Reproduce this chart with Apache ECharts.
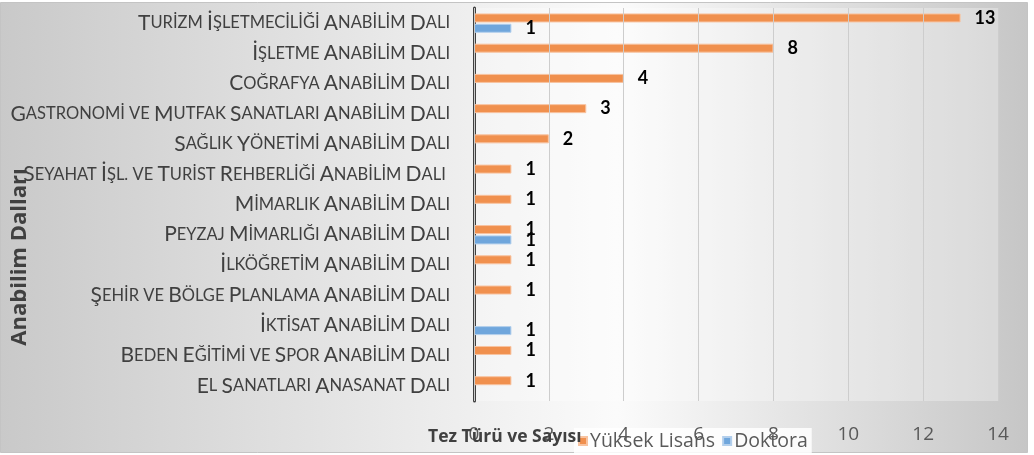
<!DOCTYPE html>
<html>
<head>
<meta charset="utf-8">
<script src="https://cdn.jsdelivr.net/npm/echarts@6/dist/echarts.min.js"></script>
<style>
  html, body { margin: 0; padding: 0; background: #fff; }
  #chart { width: 1034px; height: 455px; }
</style>
</head>
<body>
<div id="chart"></div>
<script>
// Kategoriler (yukarıdan aşağıya)
const categories = [
  'Turizm İşletmeciliği Anabilim Dalı',
  'İşletme Anabilim Dalı',
  'Coğrafya Anabilim Dalı',
  'Gastronomi ve Mutfak Sanatları Anabilim Dalı',
  'Sağlık Yönetimi Anabilim Dalı',
  'Seyahat İşl. ve Turist Rehberliği Anabilim Dalı ',
  'Mimarlık Anabilim Dalı',
  'Peyzaj Mimarlığı Anabilim Dalı',
  'İlköğretim Anabilim Dalı',
  'Şehir ve Bölge Planlama Anabilim Dalı',
  'İktisat Anabilim Dalı',
  'Beden Eğitimi ve Spor Anabilim Dalı',
  'El Sanatları Anasanat Dalı'
]
const yuksekLisans = [13, 8, 4, 3, 2, 1, 1, 1, 1, 1, null, 1, 1]
const doktora = [1, null, null, null, null, null, null, 1, null, null, 1, null, null]
const valueMin = 0
const valueMax = 14
const valueInterval = 2

const FONT = 'Lato'
const FONT2 = 'Open Sans'

// küçük büyük harf (small caps) görünümü
const smallCaps = (text) => {
  return text.split(' ').map((w) => {
    if (!w) return ''
    const up = w.toLocaleUpperCase('tr-TR')
    const first = w[0]
    if (first !== first.toLocaleLowerCase('tr-TR')) {
      return '{b|' + up[0] + '}' + (up.length > 1 ? '{s|' + up.slice(1) + '}' : '')
    }
    return '{s|' + up + '}'
  }).join('{s| }')
}

const chart = echarts.init(document.getElementById('chart'))

const option = {
  animation: false,
  textStyle: { fontFamily: FONT },
  graphic: [
    {
      type: 'rect',
      z: -10,
      silent: true,
      shape: { x: 0.5, y: 2.5, width: 1027, height: 450 },
      style: {
        fill: new echarts.graphic.LinearGradient(0, 0, 1, 0, [
          { offset: 0, color: '#c9c9c9' },
          { offset: 0.6, color: '#fbfbfb' },
          { offset: 1, color: '#c6c6c6' }
        ]),
        stroke: '#c4c4c4',
        lineWidth: 1
      }
    },
    {
      type: 'text',
      z: 10,
      x: 20,
      y: 257,
      rotation: Math.PI / 2,
      style: {
        text: 'Anabilim Dalları',
        fontFamily: FONT2,
        fontSize: 22,
        fontWeight: 'bold',
        fill: '#404040',
        align: 'center',
        verticalAlign: 'middle'
      }
    },
    {
      type: 'text',
      z: 10,
      x: 428,
      y: 437,
      style: {
        text: 'Tez Türü ve Sayısı',
        fontFamily: FONT2,
        fontSize: 17.5,
        fontWeight: 'bold',
        fill: '#404040',
        align: 'left',
        verticalAlign: 'middle'
      }
    }
  ],
  legend: {
    left: 574,
    top: 428,
    z: 1,
    icon: 'rect',
    itemWidth: 8,
    itemHeight: 8,
    itemGap: 7,
    padding: [3, 4],
    backgroundColor: 'rgba(255,255,255,0.85)',
    textStyle: { fontFamily: FONT2, fontSize: 19.5, color: '#595959', padding: [0, 0, 0, -2] },
    data: ['Yüksek Lisans', 'Doktora']
  },
  grid: {
    left: 474,
    right: 36,
    top: 8,
    bottom: 54,
    show: true,
    backgroundColor: 'rgba(255,255,255,0.3)',
    borderWidth: 0,
    outerBoundsMode: 'none'
  },
  xAxis: {
    type: 'value',
    z: 3,
    min: valueMin,
    max: valueMax,
    interval: valueInterval,
    axisLine: { show: false },
    axisTick: { show: false },
    axisLabel: { margin: 24, fontSize: 19, color: '#595959', fontFamily: FONT2 },
    splitLine: { lineStyle: { color: '#cdcdcd', width: 1 } }
  },
  yAxis: {
    type: 'category',
    inverse: true,
    data: categories,
    axisTick: { show: false },
    axisLine: { lineStyle: { color: '#404040', width: 3 } },
    axisLabel: {
      margin: 24,
      color: '#404040',
      formatter: smallCaps,
      rich: {
        b: { fontSize: 21, color: '#404040', fontFamily: FONT },
        s: { fontSize: 16.5, color: '#404040', fontFamily: FONT }
      }
    }
  },
  series: [
    {
      name: 'Yüksek Lisans',
      type: 'bar',
      data: yuksekLisans,
      barWidth: 9,
      barGap: '15%',
      itemStyle: { color: '#f0904e', borderColor: '#f8c3a0', borderWidth: 1 },
      label: { show: true, position: 'right', distance: 14, color: '#000', fontWeight: 'bold', fontSize: 18, fontFamily: FONT }
    },
    {
      name: 'Doktora',
      type: 'bar',
      data: doktora,
      barWidth: 9,
      barGap: '15%',
      itemStyle: { color: '#6fa6dc', borderColor: '#b3cfec', borderWidth: 1 },
      label: { show: true, position: 'right', distance: 14, color: '#000', fontWeight: 'bold', fontSize: 18, fontFamily: FONT }
    }
  ]
}

chart.setOption(option)
window.addEventListener('resize', () => chart.resize())
</script>
</body>
</html>
